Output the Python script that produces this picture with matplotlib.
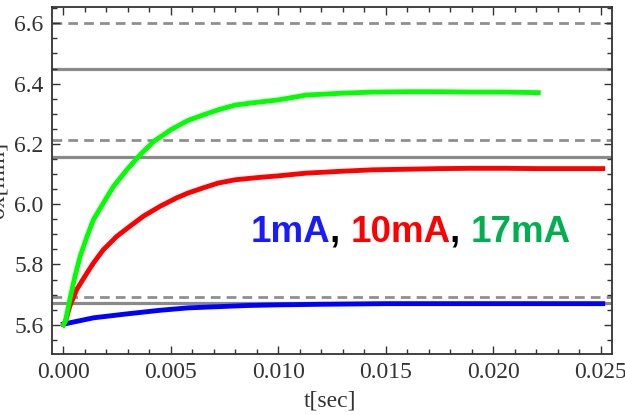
import matplotlib
matplotlib.use("Agg")
import matplotlib.pyplot as plt
from matplotlib.ticker import MultipleLocator, FormatStrFormatter

# values
t_green = [0, 0.0001, 0.0003, 0.00054, 0.00078, 0.0011, 0.0014, 0.00186,
           0.00233, 0.00295, 0.00357, 0.0042, 0.0050, 0.0058, 0.0065, 0.0072,
           0.0080, 0.0090, 0.0100, 0.0113, 0.0129, 0.0144, 0.0160, 0.0175,
           0.0190, 0.0205, 0.0221]
x_green = [5.600, 5.612, 5.684, 5.761, 5.827, 5.893, 5.949, 6.004,
           6.059, 6.114, 6.164, 6.208, 6.247, 6.278, 6.296, 6.313,
           6.329, 6.338, 6.346, 6.362, 6.368, 6.372, 6.373, 6.373,
           6.372, 6.372, 6.370]

t_red = [0, 0.0001, 0.0003, 0.00062, 0.0011, 0.0014, 0.00186, 0.00248,
         0.0031, 0.00372, 0.0045, 0.00527, 0.0058, 0.0065, 0.0072, 0.0080,
         0.0090, 0.0100, 0.0113, 0.0129, 0.0144, 0.0160, 0.0175, 0.0190,
         0.0205, 0.0221, 0.0251]
x_red = [5.600, 5.612, 5.662, 5.717, 5.772, 5.805, 5.849, 5.893,
         5.927, 5.960, 5.993, 6.021, 6.037, 6.054, 6.070, 6.081,
         6.088, 6.094, 6.103, 6.109, 6.114, 6.116, 6.118, 6.119,
         6.119, 6.118, 6.118]

t_blue = [0, 0.0014, 0.00295, 0.0045, 0.0058, 0.0072, 0.0086, 0.0100,
          0.0120, 0.0150, 0.0180, 0.0210, 0.0251]
x_blue = [5.602, 5.623, 5.636, 5.648, 5.656, 5.660, 5.664, 5.666,
          5.668, 5.670, 5.670, 5.670, 5.670]

solid_levels = [6.45, 6.155, 5.672]
dashed_levels = [6.60, 6.213, 5.692]

labels = ["1mA", ", ", "10mA", ", ", "17mA"]
label_colors = ["#1a1aff", "black", "#ff0000", "black", "#00b050"]

fig = plt.figure(figsize=(6.25, 4.15), dpi=100)
ax = fig.add_axes([0.0832, 0.147, 0.896, 0.836])

for y in solid_levels:
    ax.axhline(y, color="#8a8a8a", lw=2.3, zorder=1)
for y in dashed_levels:
    ax.axhline(y, color="#8f8f8f", lw=2.0, ls=(0, (3.5, 2.2)), zorder=1)

ax.plot(t_blue, x_blue, color="#0000ff", lw=3.5, zorder=3)
ax.plot(t_red, x_red, color="#ff0000", lw=3.5, zorder=3)
ax.plot(t_green, x_green, color="#00ff00", lw=3.5, zorder=3)

ax.set_xlim(-0.00053, 0.02553)
ax.set_ylim(5.503, 6.654)

ax.xaxis.set_major_locator(MultipleLocator(0.005))
ax.xaxis.set_minor_locator(MultipleLocator(0.001))
ax.yaxis.set_major_locator(MultipleLocator(0.2))
ax.yaxis.set_minor_locator(MultipleLocator(0.05))
ax.xaxis.set_major_formatter(FormatStrFormatter("%.3f"))
ax.yaxis.set_major_formatter(FormatStrFormatter("%.1f"))

ax.tick_params(which="both", direction="in", top=True, right=True,
               width=1.0, color="#333333")
ax.tick_params(which="major", length=6, labelsize=17, pad=6)
ax.tick_params(which="minor", length=3.5)
for lab in ax.get_xticklabels() + ax.get_yticklabels():
    lab.set_family("Liberation Serif")
    lab.set_color("#333333")
for s in ax.spines.values():
    s.set_linewidth(1.3)
    s.set_color("#333333")

ax.set_xlabel("t[sec]", family="Liberation Serif", fontsize=17, color="#333333")
ax.xaxis.set_label_coords(0.497, -0.105)
ax.set_ylabel("σx[mm]", family="Liberation Serif", fontsize=17, color="#333333")
ax.yaxis.set_label_coords(-0.077, 0.5)

# coloured label pieces, placed one after another
fig.canvas.draw()
renderer = fig.canvas.get_renderer()
x0 = 0.354
for txt, col in zip(labels, label_colors):
    t = ax.text(x0, 0.324, txt, transform=ax.transAxes, color=col,
                fontsize=26.5, fontweight="bold", family="Liberation Sans",
                ha="left", va="baseline", zorder=4)
    bb = t.get_window_extent(renderer=renderer)
    x0 += bb.width / ax.get_window_extent(renderer=renderer).width

fig.savefig("out.png", dpi=100)
